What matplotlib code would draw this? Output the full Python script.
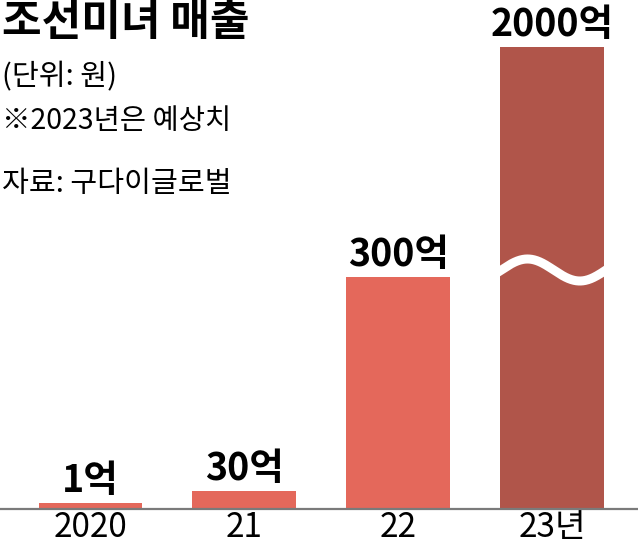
import numpy as np
import matplotlib
matplotlib.use('Agg')
import matplotlib.pyplot as plt

plt.rcParams['font.family'] = ['Noto Sans CJK KR', 'DejaVu Sans']

# 데이터 (단위: 억 원)
years = ['2020', '21', '22', '23년']
sales = [1, 30, 300, 2000]
value_labels = ['1억', '30억', '300억', '2000억']
# 그림에서 읽은 막대 높이 (축 구간을 생략한 표시 눈금)
drawn_height = [6, 18, 232, 462]
bar_colors = ['#E4685B', '#E4685B', '#E4685B', '#B0554A']

fig = plt.figure(figsize=(6.38, 5.49), dpi=100)
ax = fig.add_axes([0, 40 / 549, 1, 500 / 549])

x = np.arange(len(years))
ax.bar(x, drawn_height, width=0.675, color=bar_colors, zorder=2)

# 막대 위 값 표시
for xi, h, lab in zip(x, drawn_height, value_labels):
    ax.annotate(lab, (xi, h), xytext=(0, 2), textcoords='offset points',
                ha='center', va='bottom', fontsize=27, fontweight='black',
                color='black')

# 2023년 막대의 생략 물결선
wx = np.linspace(-0.36, 0.36, 200)
wy = 239 + 11 * np.cos(np.pi * (wx + 0.16) / 0.34)
ax.plot(x[3] + wx, wy, color='white', linewidth=6.5, solid_capstyle='butt',
        zorder=3)

ax.set_xlim(-0.588, 3.558)
ax.set_ylim(0, 500)
ax.set_xticks(x)
ax.set_xticklabels(years, fontsize=24)
ax.tick_params(axis='x', length=0, pad=1)
ax.set_yticks([])
for s in ['top', 'left', 'right']:
    ax.spines[s].set_visible(False)
ax.spines['bottom'].set_color('#7a7a7a')
ax.spines['bottom'].set_linewidth(1.6)
ax.patch.set_alpha(0)

# 제목과 설명
fig.text(0.003, 1.0, '조선미녀 매출', fontsize=31, fontweight='black',
         ha='left', va='top')
fig.text(0.003, 1 - 77 / 549, '(단위: 원)', fontsize=21, ha='left', va='center')
fig.text(0.003, 1 - 121 / 549, '※2023년은 예상치', fontsize=20.5, ha='left',
         va='center')
fig.text(0.003, 1 - 184 / 549, '자료: 구다이글로벌', fontsize=21, ha='left',
         va='center')

fig.savefig('out.png', dpi=100)
